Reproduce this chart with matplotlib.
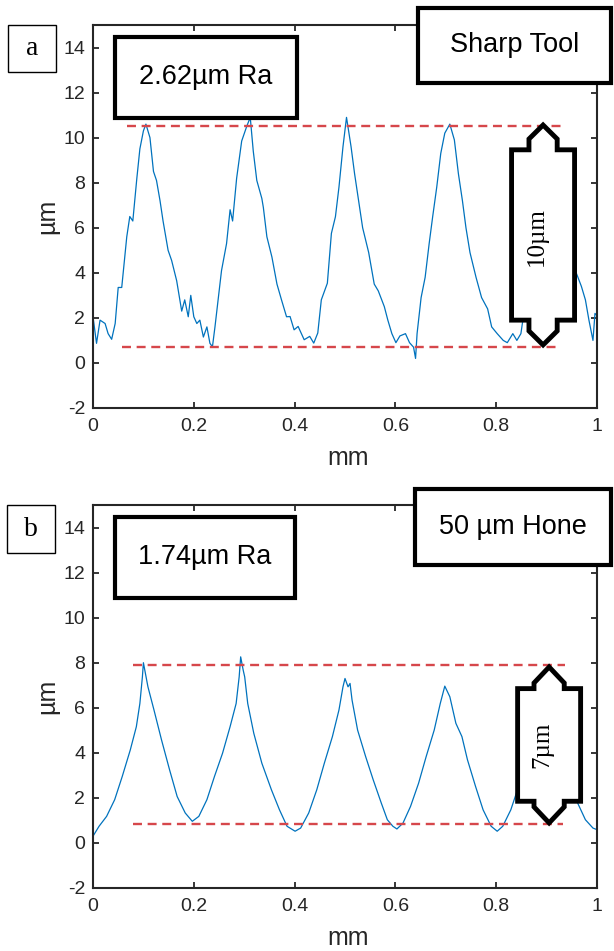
import matplotlib.pyplot as plt
from matplotlib.patches import Rectangle, Polygon

plt.rcParams['font.family'] = ['Liberation Sans', 'DejaVu Sans']
plt.rcParams['axes.unicode_minus'] = False

# surface profiles: (mm, um)
sharp_profile = [
    (0.000, 2.05), (0.007, 0.87), (0.014, 1.90), (0.024, 1.75), (0.030, 1.30),
    (0.037, 1.05), (0.044, 1.75), (0.050, 3.35), (0.057, 3.35), (0.067, 5.60),
    (0.073, 6.50), (0.079, 6.30), (0.087, 8.20), (0.093, 9.50), (0.100, 10.30),
    (0.105, 10.60), (0.113, 10.00), (0.120, 8.50), (0.126, 8.10), (0.133, 7.20),
    (0.139, 6.30), (0.149, 5.00), (0.156, 4.55), (0.166, 3.65), (0.176, 2.30),
    (0.182, 2.80), (0.189, 2.05), (0.194, 3.00), (0.200, 2.05), (0.206, 1.75),
    (0.212, 1.90), (0.219, 1.15), (0.226, 1.60), (0.232, 0.87), (0.237, 0.72),
    (0.242, 1.60), (0.249, 2.95), (0.255, 4.10), (0.265, 5.30), (0.272, 6.80),
    (0.277, 6.30), (0.285, 8.20), (0.295, 9.85), (0.305, 10.50), (0.312, 10.90),
    (0.318, 9.40), (0.325, 8.10), (0.335, 7.30), (0.338, 6.90), (0.345, 5.60),
    (0.355, 4.70), (0.365, 3.50), (0.374, 2.80), (0.384, 2.05), (0.391, 2.06),
    (0.399, 1.47), (0.407, 1.62), (0.419, 1.03), (0.430, 1.18), (0.438, 0.88),
    (0.446, 1.33), (0.453, 2.80), (0.465, 3.54), (0.473, 5.75), (0.481, 6.49),
    (0.488, 7.80), (0.496, 9.60), (0.503, 10.90), (0.512, 9.60), (0.519, 8.40),
    (0.527, 7.20), (0.535, 6.00), (0.547, 4.90), (0.558, 3.50), (0.566, 3.20),
    (0.578, 2.50), (0.585, 1.90), (0.593, 1.30), (0.601, 0.90), (0.609, 1.20),
    (0.620, 1.30), (0.628, 0.90), (0.636, 0.70), (0.640, 0.20), (0.643, 1.30),
    (0.651, 2.90), (0.659, 3.80), (0.667, 5.30), (0.674, 6.50), (0.682, 7.80),
    (0.690, 9.30), (0.698, 10.20), (0.708, 10.60), (0.717, 9.90), (0.725, 8.40),
    (0.733, 7.20), (0.740, 6.00), (0.748, 4.90), (0.760, 3.80), (0.771, 2.90),
    (0.783, 2.40), (0.791, 1.60), (0.802, 1.30), (0.814, 1.00), (0.822, 0.90),
    (0.833, 1.30), (0.841, 1.00), (0.849, 1.30), (0.860, 3.00), (0.875, 6.00),
    (0.890, 8.80), (0.905, 10.40), (0.915, 9.50), (0.930, 7.50), (0.945, 5.60),
    (0.957, 4.10), (0.969, 3.40), (0.977, 2.80), (0.984, 1.90), (0.992, 1.00),
    (0.996, 2.20), (1.000, 2.10),
]

hone_profile = [
    (0.000, 0.30), (0.012, 0.74), (0.027, 1.18), (0.043, 1.92), (0.058, 2.95),
    (0.074, 4.13), (0.086, 5.16), (0.093, 6.19), (0.098, 7.37), (0.100, 8.00),
    (0.109, 6.93), (0.121, 5.90), (0.136, 4.57), (0.152, 3.24), (0.167, 2.06),
    (0.183, 1.33), (0.197, 0.96), (0.210, 1.18), (0.226, 1.92), (0.241, 2.95),
    (0.257, 3.98), (0.272, 5.16), (0.284, 6.19), (0.290, 7.37), (0.293, 8.26),
    (0.298, 7.67), (0.301, 7.37), (0.307, 6.19), (0.319, 4.87), (0.335, 3.54),
    (0.354, 2.36), (0.370, 1.47), (0.385, 0.74), (0.401, 0.52), (0.412, 0.66),
    (0.428, 1.33), (0.444, 2.36), (0.459, 3.54), (0.475, 4.72), (0.488, 5.90),
    (0.496, 6.93), (0.500, 7.30), (0.506, 6.93), (0.510, 7.08), (0.514, 6.34),
    (0.525, 5.01), (0.541, 3.83), (0.556, 2.80), (0.572, 1.77), (0.584, 1.03),
    (0.595, 0.74), (0.603, 0.62), (0.615, 0.88), (0.630, 1.62), (0.646, 2.65),
    (0.661, 3.83), (0.677, 5.01), (0.689, 6.19), (0.698, 6.96), (0.708, 6.49),
    (0.720, 5.31), (0.732, 4.72), (0.743, 3.69), (0.759, 2.51), (0.774, 1.47),
    (0.790, 0.74), (0.802, 0.52), (0.813, 0.74), (0.829, 1.47), (0.840, 2.21),
    (0.860, 3.90), (0.880, 5.60), (0.900, 6.60), (0.920, 5.20), (0.940, 3.60),
    (0.955, 2.60), (0.961, 1.80), (0.977, 1.03), (0.992, 0.66), (1.000, 0.59),
]

x_ticks = [0, 0.2, 0.4, 0.6, 0.8, 1]
x_tick_labels = ['0', '0.2', '0.4', '0.6', '0.8', '1']
y_ticks = [-2, 0, 2, 4, 6, 8, 10, 12, 14]

# red dashed peak / valley levels and their x extents
sharp_levels = [10.5, 0.72]
sharp_spans = [(0.067, 0.93), (0.058, 0.92)]
hone_levels = [7.9, 0.84]
hone_spans = [(0.08, 0.936), (0.08, 0.933)]

panel_labels = ['a', 'b']
ra_labels = ['2.62µm Ra', '1.74µm Ra']
tool_labels = ['Sharp Tool', '50 µm Hone']
height_labels = ['10µm', '7µm']

W, H = 614, 951
INK = '#262626'
BLUE = '#0072BD'
RED = '#D6474B'

fig = plt.figure(figsize=(W / 100, H / 100), dpi=100)


def px_box(x0, y0, x1, y1, text, lw, size, family):
    # box given in picture pixels, origin top left
    fig.add_artist(Rectangle((x0 / W, 1 - y1 / H), (x1 - x0) / W, (y1 - y0) / H,
                             transform=fig.transFigure, facecolor='white',
                             edgecolor='black', lw=lw, zorder=10))
    fig.text((x0 + x1) / 2 / W, 1 - (y0 + y1) / 2 / H, text, ha='center',
             va='center', fontsize=size, family=family, zorder=11)


def double_arrow(ax, xc, top, bot, half_w, neck_w, head, neck):
    t1, t2 = top - head, top - head - neck
    b1, b2 = bot + head, bot + head + neck
    pts = [(xc, top), (xc + neck_w, t1), (xc + neck_w, t2), (xc + half_w, t2),
           (xc + half_w, b2), (xc + neck_w, b2), (xc + neck_w, b1), (xc, bot),
           (xc - neck_w, b1), (xc - neck_w, b2), (xc - half_w, b2),
           (xc - half_w, t2), (xc - neck_w, t2), (xc - neck_w, t1)]
    ax.add_patch(Polygon(pts, closed=True, facecolor='white', edgecolor='black',
                         lw=3.5, joinstyle='miter', zorder=5))


panels = [
    dict(profile=sharp_profile, levels=sharp_levels, spans=sharp_spans,
         top=25, arrow=(0.893, 10.56, 0.80, 0.0625, 0.028, 0.62, 0.48),
         label_xy=(0.881, 5.6)),
    dict(profile=hone_profile, levels=hone_levels, spans=hone_spans,
         top=505, arrow=(0.905, 7.81, 0.89, 0.0625, 0.03, 0.71, 0.25),
         label_xy=(0.891, 4.35)),
]

for i, p in enumerate(panels):
    top = p['top']
    ax = fig.add_axes([93 / W, 1 - (top + 383) / H, 504 / W, 383 / H])
    xs = [pt[0] for pt in p['profile']]
    ys = [pt[1] for pt in p['profile']]
    ax.plot(xs, ys, color=BLUE, lw=0.9, zorder=2)
    for lvl, (xa, xb) in zip(p['levels'], p['spans']):
        ax.plot([xa, xb], [lvl, lvl], color=RED, lw=1.7,
                linestyle=(0, (3.8, 2.4)), zorder=3)
    double_arrow(ax, *p['arrow'])
    ax.text(*p['label_xy'], height_labels[i], rotation=90, ha='center',
            va='center', fontsize=18, family='Liberation Serif', zorder=6)

    ax.set_xlim(0, 1)
    ax.set_ylim(-2, 15)
    ax.set_xticks(x_ticks, x_tick_labels)
    ax.set_yticks(y_ticks)
    ax.tick_params(direction='in', top=True, right=True, length=4, width=1.3,
                   color=INK, labelcolor=INK, labelsize=14)
    ax.tick_params(axis='x', pad=7.5)
    ax.tick_params(axis='y', pad=5.5)
    for s in ax.spines.values():
        s.set_linewidth(1.5)
        s.set_color(INK)
    ax.set_xlabel('mm', fontsize=18, color=INK)
    ax.set_ylabel('µm', fontsize=18, color=INK)
    ax.xaxis.set_label_coords(0.506, -0.1)
    ax.yaxis.set_label_coords(-0.067, 0.5)

# annotation boxes (picture pixels)
px_box(8, 25, 56, 72, panel_labels[0], 1, 20, 'Liberation Serif')
px_box(115, 37, 297, 118, ra_labels[0], 3, 19.5, 'Liberation Sans')
px_box(418, 8, 611, 83, tool_labels[0], 3, 19.5, 'Liberation Sans')
px_box(7, 505, 55, 553, panel_labels[1], 1, 20, 'Liberation Serif')
px_box(115, 517, 295, 598, ra_labels[1], 3, 19.5, 'Liberation Sans')
px_box(415, 489, 611, 565, tool_labels[1], 3, 19.5, 'Liberation Sans')

fig.savefig('out.png', dpi=100)
